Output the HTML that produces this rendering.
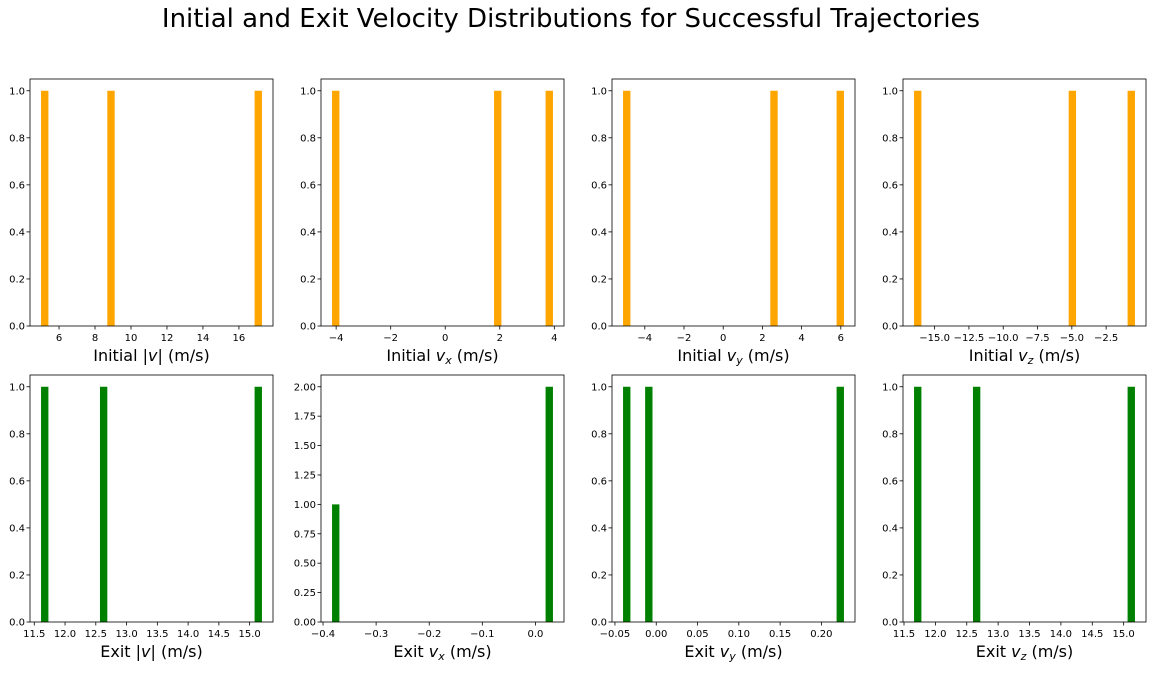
<!DOCTYPE html>
<html><head><meta charset="utf-8"><style>
body{margin:0;background:#fff;}
svg text{font-family:"DejaVu Sans","Liberation Sans",sans-serif;fill:#000;}
</style></head><body>
<svg id="fig" width="1153" height="671" xmlns="http://www.w3.org/2000/svg">
<rect width="1153" height="671" fill="#fff"/>
<text x="571" y="27" font-size="26" text-anchor="middle">Initial and Exit Velocity Distributions for Successful Trajectories</text>
</svg>
<script>
// raw sample values per panel (histogram 30 bins)
const p1Values=[5.0,8.8,17.28];
const p2Values=[-4.15,1.9,3.95];
const p3Values=[-5.11,2.5,6.16];
const p4Values=[-16.5,-4.9,-0.4];
const p5Values=[11.61,12.6,15.2];
const p6Values=[-0.383,0.03,0.033];
const p7Values=[-0.0402,-0.012,0.2273];
const p8Values=[11.66,12.65,15.18];
const p1XTicks=[6,8,10,12,14,16];
const p2XTicks=[-4,-2,0,2,4];
const p3XTicks=[-4,-2,0,2,4,6];
const p4XTicks=[-15,-12.5,-10,-7.5,-5,-2.5];
const p5XTicks=[11.5,12,12.5,13,13.5,14,14.5,15];
const p6XTicks=[-0.4,-0.3,-0.2,-0.1,0];
const p7XTicks=[-0.05,0,0.05,0.1,0.15,0.2];
const p8XTicks=[11.5,12,12.5,13,13.5,14,14.5,15];
const yTicksUnit=[0,0.2,0.4,0.6,0.8,1.0];
const yTicksTwo=[0,0.25,0.5,0.75,1,1.25,1.5,1.75,2];

const NS="http://www.w3.org/2000/svg";
const svg=document.getElementById('fig');
function mk(tag,attrs,parent){const e=document.createElementNS(NS,tag);for(const k in attrs)e.setAttribute(k,attrs[k]);(parent||svg).appendChild(e);return e;}
function fmt(v,d){let s=v.toFixed(d);if(parseFloat(s)===0)s=(0).toFixed(d);return s.replace('-','\u2212');}

const panels=[
 {vals:p1Values,xt:p1XTicks,xd:0,yt:yTicksUnit,yd:1,col:'#ffa500',label:['Initial |','v','| (m/s)',''],c:0,r:0,name:'initial-speed'},
 {vals:p2Values,xt:p2XTicks,xd:0,yt:yTicksUnit,yd:1,col:'#ffa500',label:['Initial ','v','x',' (m/s)'],c:1,r:0,name:'initial-vx'},
 {vals:p3Values,xt:p3XTicks,xd:0,yt:yTicksUnit,yd:1,col:'#ffa500',label:['Initial ','v','y',' (m/s)'],c:2,r:0,name:'initial-vy'},
 {vals:p4Values,xt:p4XTicks,xd:1,yt:yTicksUnit,yd:1,col:'#ffa500',label:['Initial ','v','z',' (m/s)'],c:3,r:0,name:'initial-vz'},
 {vals:p5Values,xt:p5XTicks,xd:1,yt:yTicksUnit,yd:1,col:'#008000',label:['Exit |','v','| (m/s)',''],c:0,r:1,name:'exit-speed'},
 {vals:p6Values,xt:p6XTicks,xd:1,yt:yTicksTwo,yd:2,col:'#008000',label:['Exit ','v','x',' (m/s)'],c:1,r:1,name:'exit-vx'},
 {vals:p7Values,xt:p7XTicks,xd:2,yt:yTicksUnit,yd:1,col:'#008000',label:['Exit ','v','y',' (m/s)'],c:2,r:1,name:'exit-vy'},
 {vals:p8Values,xt:p8XTicks,xd:1,yt:yTicksUnit,yd:1,col:'#008000',label:['Exit ','v','z',' (m/s)'],c:3,r:1,name:'exit-vz'}
];
const colX=[30,321,612,903], rowY=[79,375], W=243, H=247;

panels.forEach(p=>{
 const g=mk('g',{});
 
 
 const x0=colX[p.c], y0=rowY[p.r];
 const mn=Math.min(...p.vals), mx=Math.max(...p.vals), R=mx-mn, bw=R/30;
 const counts=new Array(30).fill(0);
 p.vals.forEach(v=>{let i=Math.floor((v-mn)/bw);if(i>29)i=29;if(i<0)i=0;counts[i]++;});
 const maxC=Math.max(...counts);
 const xmin=mn-0.05*R, xmax=mx+0.05*R, ymax=maxC*1.05;
 const sx=v=>x0+(v-xmin)/(xmax-xmin)*W;
 const sy=v=>y0+H-(v/ymax)*H;
 counts.forEach((c,i)=>{ if(!c)return;
  const b=mk('rect',{x:sx(mn+i*bw),y:sy(c),width:sx(mn+(i+1)*bw)-sx(mn+i*bw),height:sy(0)-sy(c),fill:p.col},g);
  
  
 });
 const f=mk('rect',{x:x0,y:y0,width:W,height:H,fill:'none',stroke:'#000','stroke-width':0.8},g);
 
 
 p.xt.forEach(t=>{const X=sx(t);
  mk('line',{x1:X,x2:X,y1:y0+H,y2:y0+H+3.5,stroke:'#000','stroke-width':0.8},g);
  const tx=mk('text',{x:X,y:y0+H+15,'font-size':10,'text-anchor':'middle'},g);
  
  
  tx.textContent=fmt(t,p.xd);
 });
 p.yt.forEach(t=>{const Y=sy(t);
  mk('line',{x1:x0-3.5,x2:x0,y1:Y,y2:Y,stroke:'#000','stroke-width':0.8},g);
  const tx=mk('text',{x:x0-5,y:Y+3.5,'font-size':10,'text-anchor':'end'},g);
  
  
  tx.textContent=fmt(t,p.yd);
 });
 const lb=mk('text',{x:x0+W/2,y:y0+H+35,'font-size':16,'text-anchor':'middle'},g);
 
 
 const a=mk('tspan',{},lb);a.textContent=p.label[0];
 const v=mk('tspan',{'font-style':'italic'},lb);v.textContent=p.label[1];
 if(p.label[3]!==''||p.label[2].length===1){
  const s=mk('tspan',{'font-style':'italic','font-size':11,dy:3},lb);s.textContent=p.label[2];
  const r=mk('tspan',{dy:-3},lb);r.textContent=p.label[3];
 } else {const r=mk('tspan',{},lb);r.textContent=p.label[2];}
});
</script>
</body></html>
